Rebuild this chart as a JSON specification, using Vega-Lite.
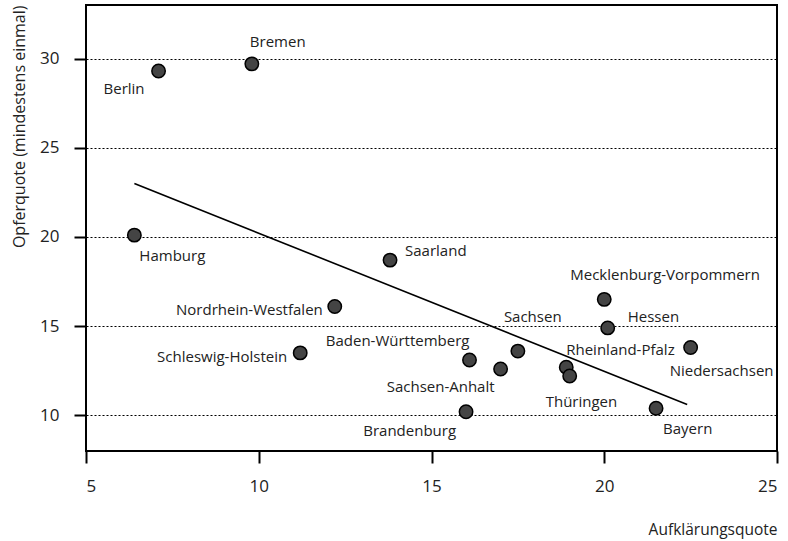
{
  "$schema": "https://vega.github.io/schema/vega-lite/v6.json",
  "width": 691,
  "height": 446,
  "autosize": {"type": "none"},
  "padding": {"left": 86, "top": 5, "right": 10, "bottom": 90},
  "background": "white",
  "config": {
    "font": "Open Sans",
    "view": {"stroke": "black", "strokeWidth": 2},
    "axis": {"domain": false, "labelFont": "Open Sans", "titleFont": "Open Sans", "labelFontSize": 17, "titleFontSize": 15.5, "labelColor": "#222", "titleColor": "#222", "titleFontWeight": "normal", "tickColor": "black", "tickWidth": 2, "tickSize": 12}
  },
  "datasets": {
    "laender": [
      {"land": "Berlin", "aufklaerung": 7.1, "opfer": 29.3},
      {"land": "Bremen", "aufklaerung": 9.8, "opfer": 29.7},
      {"land": "Hamburg", "aufklaerung": 6.4, "opfer": 20.1},
      {"land": "Saarland", "aufklaerung": 13.8, "opfer": 18.7},
      {"land": "Nordrhein-Westfalen", "aufklaerung": 12.2, "opfer": 16.1},
      {"land": "Schleswig-Holstein", "aufklaerung": 11.2, "opfer": 13.5},
      {"land": "Mecklenburg-Vorpommern", "aufklaerung": 20.0, "opfer": 16.5},
      {"land": "Hessen", "aufklaerung": 20.1, "opfer": 14.9},
      {"land": "Niedersachsen", "aufklaerung": 22.5, "opfer": 13.8},
      {"land": "Baden-Württemberg", "aufklaerung": 16.1, "opfer": 13.1},
      {"land": "Sachsen", "aufklaerung": 17.5, "opfer": 13.6},
      {"land": "Sachsen-Anhalt", "aufklaerung": 17.0, "opfer": 12.6},
      {"land": "Rheinland-Pfalz", "aufklaerung": 18.9, "opfer": 12.7},
      {"land": "Thüringen", "aufklaerung": 19.0, "opfer": 12.2},
      {"land": "Brandenburg", "aufklaerung": 16.0, "opfer": 10.2},
      {"land": "Bayern", "aufklaerung": 21.5, "opfer": 10.4}
    ],
    "fit": [
      {"aufklaerung": 6.4, "opfer": 23.0},
      {"aufklaerung": 22.4, "opfer": 10.6}
    ]
  },
  "encoding": {
    "x": {"field": "aufklaerung", "type": "quantitative", "scale": {"domain": [5, 25], "nice": false, "zero": false},
      "axis": {"values": [5, 10, 15, 20, 25], "grid": false, "title": "Aufklärungsquote", "titleAnchor": "end", "titleAlign": "right", "titlePadding": 28, "labelPadding": 15}},
    "y": {"field": "opfer", "type": "quantitative", "scale": {"domain": [8, 33], "nice": false, "zero": false},
      "axis": {"values": [10, 15, 20, 25, 30], "grid": true, "gridColor": "black", "gridDash": [2, 2], "gridWidth": 1.2, "title": "Opferquote (mindestens einmal)", "titleFontSize": 16, "titleAnchor": "end", "titlePadding": 12, "labelPadding": 15}}
  },
  "layer": [
    {"data": {"name": "fit"}, "mark": {"type": "line", "color": "black", "strokeWidth": 1.6}},
    {"data": {"name": "laender"}, "mark": {"type": "point", "shape": "circle", "filled": true, "size": 180, "fill": "#444444", "stroke": "black", "strokeWidth": 1.5, "opacity": 1}},
    {"data": {"name": "laender"}, "transform": [{"filter": "datum.land == 'Berlin'"}], "mark": {"type": "text", "align": "right", "baseline": "middle", "dx": -14, "dy": 18, "fontSize": 15, "color": "#222"}, "encoding": {"text": {"field": "land"}}},
    {"data": {"name": "laender"}, "transform": [{"filter": "datum.land == 'Nordrhein-Westfalen'"}], "mark": {"type": "text", "align": "right", "baseline": "middle", "dx": -12, "dy": 4, "fontSize": 15, "color": "#222"}, "encoding": {"text": {"field": "land"}}},
    {"data": {"name": "laender"}, "transform": [{"filter": "datum.land == 'Schleswig-Holstein'"}], "mark": {"type": "text", "align": "right", "baseline": "middle", "dx": -13, "dy": 4, "fontSize": 15, "color": "#222"}, "encoding": {"text": {"field": "land"}}},
    {"data": {"name": "laender"}, "transform": [{"filter": "datum.land == 'Baden-Württemberg'"}], "mark": {"type": "text", "align": "right", "baseline": "middle", "dx": 0, "dy": -19, "fontSize": 15, "color": "#222"}, "encoding": {"text": {"field": "land"}}},
    {"data": {"name": "laender"}, "transform": [{"filter": "datum.land == 'Sachsen-Anhalt'"}], "mark": {"type": "text", "align": "right", "baseline": "middle", "dx": -6, "dy": 18, "fontSize": 15, "color": "#222"}, "encoding": {"text": {"field": "land"}}},
    {"data": {"name": "laender"}, "transform": [{"filter": "datum.land == 'Brandenburg'"}], "mark": {"type": "text", "align": "right", "baseline": "middle", "dx": -10, "dy": 19, "fontSize": 15, "color": "#222"}, "encoding": {"text": {"field": "land"}}},
    {"data": {"name": "laender"}, "transform": [{"filter": "datum.land == 'Bremen'"}], "mark": {"type": "text", "align": "left", "baseline": "middle", "dx": -2, "dy": -22, "fontSize": 15, "color": "#222"}, "encoding": {"text": {"field": "land"}}},
    {"data": {"name": "laender"}, "transform": [{"filter": "datum.land == 'Hamburg'"}], "mark": {"type": "text", "align": "left", "baseline": "middle", "dx": 5, "dy": 21, "fontSize": 15, "color": "#222"}, "encoding": {"text": {"field": "land"}}},
    {"data": {"name": "laender"}, "transform": [{"filter": "datum.land == 'Saarland'"}], "mark": {"type": "text", "align": "left", "baseline": "middle", "dx": 15, "dy": -9, "fontSize": 15, "color": "#222"}, "encoding": {"text": {"field": "land"}}},
    {"data": {"name": "laender"}, "transform": [{"filter": "datum.land == 'Mecklenburg-Vorpommern'"}], "mark": {"type": "text", "align": "left", "baseline": "middle", "dx": -34, "dy": -24, "fontSize": 15, "color": "#222"}, "encoding": {"text": {"field": "land"}}},
    {"data": {"name": "laender"}, "transform": [{"filter": "datum.land == 'Hessen'"}], "mark": {"type": "text", "align": "left", "baseline": "middle", "dx": 20, "dy": -11, "fontSize": 15, "color": "#222"}, "encoding": {"text": {"field": "land"}}},
    {"data": {"name": "laender"}, "transform": [{"filter": "datum.land == 'Rheinland-Pfalz'"}], "mark": {"type": "text", "align": "left", "baseline": "middle", "dx": 0, "dy": -17, "fontSize": 15, "color": "#222"}, "encoding": {"text": {"field": "land"}}},
    {"data": {"name": "laender"}, "transform": [{"filter": "datum.land == 'Niedersachsen'"}], "mark": {"type": "text", "align": "left", "baseline": "middle", "dx": -21, "dy": 23, "fontSize": 15, "color": "#222"}, "encoding": {"text": {"field": "land"}}},
    {"data": {"name": "laender"}, "transform": [{"filter": "datum.land == 'Bayern'"}], "mark": {"type": "text", "align": "left", "baseline": "middle", "dx": 7, "dy": 21, "fontSize": 15, "color": "#222"}, "encoding": {"text": {"field": "land"}}},
    {"data": {"name": "laender"}, "transform": [{"filter": "datum.land == 'Sachsen'"}], "mark": {"type": "text", "align": "left", "baseline": "middle", "dx": -14, "dy": -34, "fontSize": 15, "color": "#222"}, "encoding": {"text": {"field": "land"}}},
    {"data": {"name": "laender"}, "transform": [{"filter": "datum.land == 'Thüringen'"}], "mark": {"type": "text", "align": "left", "baseline": "middle", "dx": -24, "dy": 26, "fontSize": 15, "color": "#222"}, "encoding": {"text": {"field": "land"}}}
  ]
}
